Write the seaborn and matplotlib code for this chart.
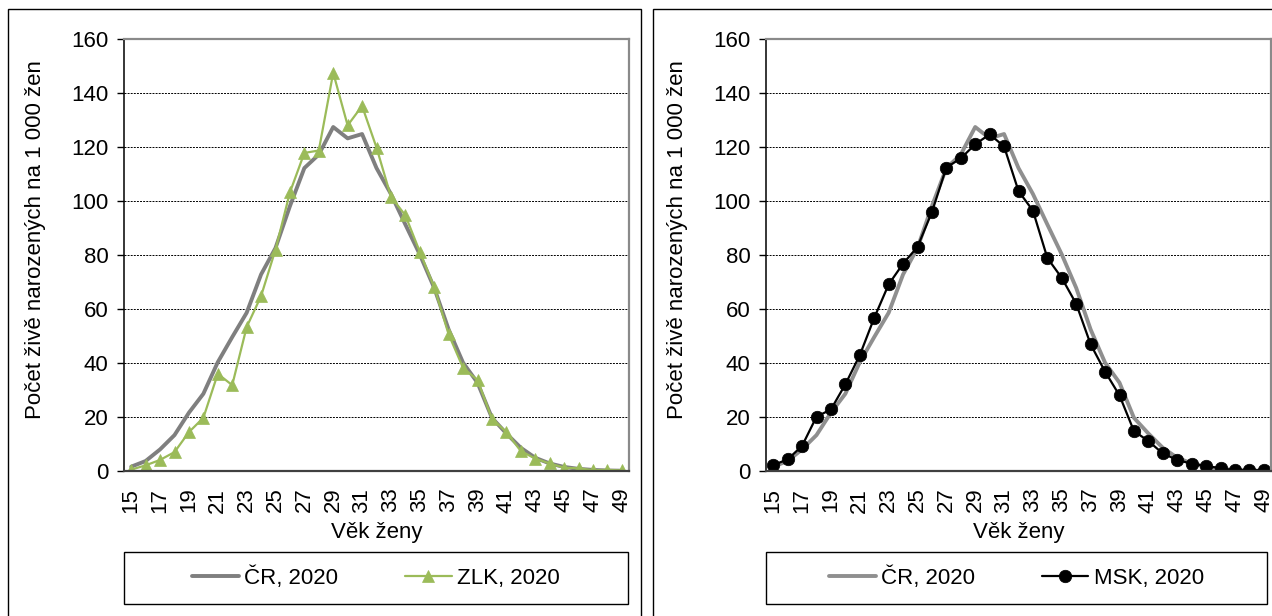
import pandas as pd
import seaborn as sns
import matplotlib.pyplot as plt
from matplotlib.patches import Rectangle

# plodnost podle veku zeny, 2020 (na 1 000 zen)
vek = list(range(15, 50))
cr_2020 = [1.6, 3.7, 8.0, 13.3, 21.6, 28.6, 40.3, 49.6, 58.6, 72.8, 82.6, 98.1, 112.2, 117.2, 127.4,
           123.2, 124.8, 112.2, 102.6, 91.3, 80.2, 67.8, 52.4, 40.1, 32.7, 19.7, 13.9, 8.6, 4.9, 2.8,
           1.5, 0.8, 0.4, 0.2, 0.1]
zlk_2020 = [0.5, 2.1, 4.1, 7.0, 14.4, 19.7, 36.0, 31.8, 53.3, 64.8, 82.0, 103.2, 117.8, 118.7, 147.5,
            128.0, 135.2, 119.8, 101.6, 94.7, 81.2, 68.1, 50.6, 38.2, 33.7, 19.4, 14.4, 7.4, 4.6, 2.8,
            1.2, 1.0, 0.3, 0.4, 0.2]
msk_2020 = [2.2, 4.3, 9.3, 20.1, 22.8, 32.1, 42.9, 56.7, 69.1, 76.8, 83.0, 95.9, 112.4, 115.8, 121.0,
            124.7, 120.2, 103.7, 96.4, 78.9, 71.5, 61.9, 46.9, 36.8, 28.0, 14.8, 11.1, 6.5, 4.1, 2.7,
            1.9, 1.0, 0.3, 0.3, 0.3]

df = pd.DataFrame({"vek": vek, "CR": cr_2020, "ZLK": zlk_2020, "MSK": msk_2020})

sns.set_style("white")
plt.rcParams['font.family'] = ['Liberation Sans', 'DejaVu Sans']
FS = 16

W, H = 1272, 616
fig = plt.figure(figsize=(12.72, 6.16), dpi=100)
ax1 = fig.add_axes([124 / W, 145 / H, 505 / W, 432 / H])
ax2 = fig.add_axes([766 / W, 145 / H, 505 / W, 432 / H])


def kresli(ax, kraj, popis, barva, marker, ms, seda):
    sns.lineplot(data=df, x="vek", y="CR", ax=ax, color=seda, lw=2.8,
                 label="ČR, 2020", legend=False)
    sns.lineplot(data=df, x="vek", y=kraj, ax=ax, color=barva, lw=1.6,
                 marker=marker, markersize=ms, markeredgecolor=barva,
                 markeredgewidth=0.5, label=popis, legend=False)

    ax.set_xlim(14.5, 49.5)
    ax.set_ylim(0, 160)
    ax.set_yticks(range(0, 161, 20))
    ax.set_xticks(range(15, 50, 2))
    ax.set_xticklabels([str(v) for v in range(15, 50, 2)], rotation=90)
    ax.grid(axis='y', color='black', lw=0.7, ls=(0, (2, 1.2)))
    ax.grid(axis='x', visible=False)
    ax.tick_params(axis='y', left=True, length=5, width=1, color='black',
                   direction='out', labelsize=FS, pad=6, labelcolor='black')
    ax.tick_params(axis='x', bottom=False, length=0, pad=12, labelsize=FS,
                   labelcolor='black')
    for s in ['top', 'right']:
        ax.spines[s].set_color('#8a8a8a')
        ax.spines[s].set_linewidth(1.6)
    ax.spines['left'].set_color('black')
    ax.spines['left'].set_linewidth(1.1)
    ax.spines['bottom'].set_color('#404040')
    ax.spines['bottom'].set_linewidth(1.6)
    ax.spines['bottom'].set_zorder(5)

    ax.set_xlabel("Věk ženy", fontsize=FS, color='black')
    ax.set_ylabel("Počet živě narozených na 1 000 žen", fontsize=FS, color='black')
    ax.xaxis.set_label_coords(0.5, -0.118)
    ax.yaxis.set_label_coords(-0.155, 0.535)


kresli(ax1, "ZLK", "ZLK, 2020", "#9bbb59", "^", 8.5, "#7f7f7f")
kresli(ax2, "MSK", "MSK, 2020", "black", "o", 9, "#8f8f8f")

# legendy pod grafy
for ax, x0, x1 in [(ax1, 124, 628), (ax2, 766, 1267)]:
    fig.add_artist(Rectangle((x0 / W, 12 / H), (x1 - x0) / W, 52 / H,
                             transform=fig.transFigure, fill=False,
                             ec='black', lw=1))
    h, l = ax.get_legend_handles_labels()
    fig.legend(h, l, loc='center', bbox_to_anchor=((x0 + x1) / 2 / W, 1 - 578 / H),
               ncol=2, frameon=False, fontsize=FS, handlelength=2.1,
               handletextpad=0.25, columnspacing=3.0, labelcolor='black')

# ramecky panelu
fig.add_artist(Rectangle((7.5 / W, -0.05), (641.5 - 7.5) / W, (616 - 9) / H + 0.05,
                         transform=fig.transFigure, fill=False, ec='black', lw=1))
fig.add_artist(Rectangle((652.5 / W, -0.05), 0.5, (616 - 9) / H + 0.05,
                         transform=fig.transFigure, fill=False, ec='black', lw=1))

fig.savefig("out.png", dpi=100)
